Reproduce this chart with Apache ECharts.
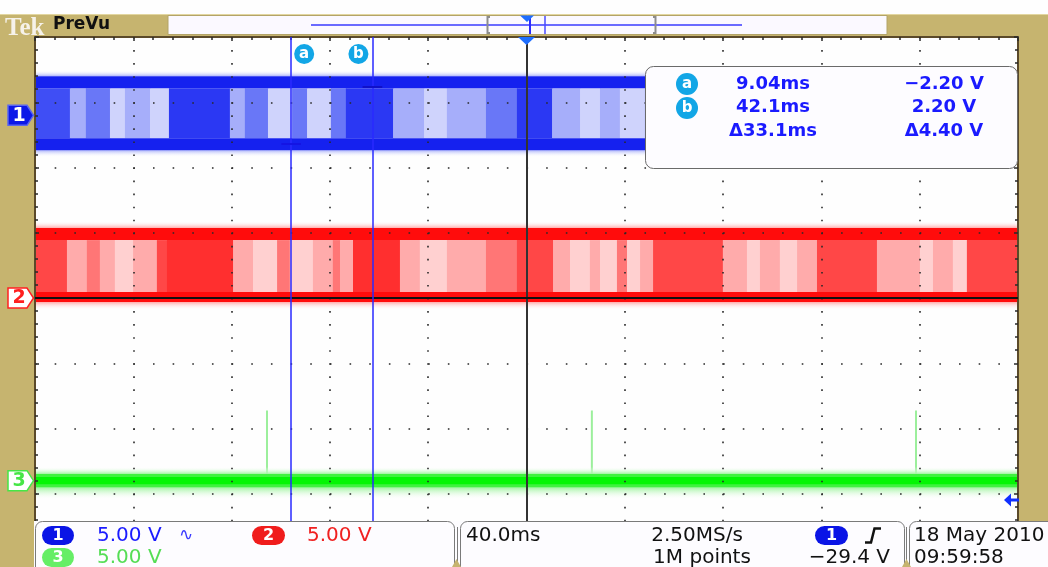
<!DOCTYPE html>
<html><head><meta charset="utf-8">
<script src="https://cdn.jsdelivr.net/npm/echarts@6.0.0/dist/echarts.min.js"></script>
<style>html,body{margin:0;padding:0;background:#fff;overflow:hidden}#c{width:1048px;height:567px}</style>
</head><body><div id="c"></div>
<script>
// ---------------- data ----------------
const timeSpan = [-95.2, 304.8];          // ms across the 10 horizontal divisions (40 ms/div)
const voltsPerDiv = [5, 5, 5];            // CH1, CH2, CH3
const chPosition = [2.8, 0, -2.8];        // ground marker of each channel, divisions from centre

// CH1 (blue) envelope, volts
const ch1Noise = [-3.2, 3.45];
const ch1Upper = [2.07, 3.0];
const ch1Lower = [-2.68, -1.76];
const ch1Edges = [-95.2, -81.0, -74.5, -64.7, -58.6, -48.4, -40.7, -15.9, -9.8, -0.4, 9.4, 15.5, 25.2, 31.3, 50.5, 63.1, 72.4, 88.3, 100.9, 115.2, 126.6, 134.7, 142.8, 153.0, 304.8];
const ch1Shade = [1, 3, 2, 4, 3, 4, 0, 3, 2, 4, 2, 4, 2, 0, 3, 4, 3, 2, 0, 3, 4, 3, 4, 1];

// CH2 (red) envelope, volts
const ch2Noise = [-0.9, 5.9];
const ch2Upper = [4.44, 5.36];
const ch2Lower = [-0.31, 0.46];
const ch2Edges = [-95.2, -82.2, -74.1, -68.8, -62.7, -55.3, -45.6, -41.5, -14.6, -6.5, 3.3, 8.5, 17.9, 26.0, 28.9, 34.2, 53.3, 61.4, 72.4, 88.3, 100.9, 115.6, 122.5, 130.6, 134.7, 141.6, 145.7, 151.0, 156.3, 184.7, 194.5, 199.8, 207.9, 214.9, 223.0, 247.4, 264.9, 270.2, 278.3, 284.0, 304.8];
const ch2Shade = [1, 3, 2, 3, 4, 3, 1, 0, 3, 4, 2, 4, 3, 2, 3, 0, 3, 4, 3, 2, 1, 3, 4, 3, 4, 2, 4, 3, 1, 3, 4, 3, 4, 3, 1, 3, 4, 3, 4, 1];

// CH3 (green), volts
const ch3Noise = [-1.45, 1.05];
const ch3Band = [-0.52, 0.52];
const ch3Core = [-0.28, 0.28];
const ch3SpikeTimes = [-0.8, 131.4, 263.3];
const ch3SpikePeaks = [5.38, 5.38, 5.38];

// cursors
const cursorTimes = [9.04, 42.1];
const cursorVolts = [-2.20, 2.20];
const readTime = ['9.04ms', '42.1ms', 'Δ33.1ms'];
const readVolt = ['\u22122.20 V', '2.20 V', 'Δ4.40 V'];

// status bar texts
const chScaleText = ['5.00 V', '5.00 V', '5.00 V'];
const horizText = ['40.0ms', '2.50MS/s', '1M points'];
const trigLevelText = '\u221229.4 V';
const dateText = ['18 May 2010', '09:59:58'];

// ---------------- helpers ----------------
const toDiv = (ch, v) => v / voltsPerDiv[ch] + chPosition[ch];

function bandData(ch, noise, upper, lower, edges, shade) {
  const t0 = timeSpan[0], t1 = timeSpan[1], d = [];
  d.push([t0, t1, toDiv(ch, upper[1]), toDiv(ch, noise[1]), 11]);
  d.push([t0, t1, toDiv(ch, noise[0]), toDiv(ch, lower[0]), 12]);
  for (let i = 0; i < shade.length; i++) {
    d.push([edges[i], edges[i + 1], toDiv(ch, lower[1]), toDiv(ch, upper[0]), shade[i]]);
  }
  d.push([t0, t1, toDiv(ch, upper[0]), toDiv(ch, upper[1]), 10]);
  d.push([t0, t1, toDiv(ch, lower[0]), toDiv(ch, lower[1]), 10]);
  return d;
}

const palBlue = { s: ['#2b38f3', '#3f4ef5', '#6977f7', '#a6aefa', '#cfd3fc'], dense: '#1521ef', fr: '#aeb5fa', core: '#1521ef' };
const palRed = { s: ['#ff2f2f', '#ff4747', '#ff7676', '#ffabab', '#ffd0d0'], dense: '#ff0c0c', fr: '#ffacac', core: '#ff0c0c' };
const palGreen = { s: ['#5cf25c'], dense: '#3ff23f', fr: '#a2f4a2', core: '#04f604' };

function colorFor(p, k) {
  if (k === 10) return p.dense;
  if (k === 13) return p.core;
  if (k === 11) return new echarts.graphic.LinearGradient(0, 0, 0, 1, [{ offset: 0, color: 'rgba(255,255,255,0)' }, { offset: 1, color: p.fr }]);
  if (k === 12) return new echarts.graphic.LinearGradient(0, 0, 0, 1, [{ offset: 0, color: p.fr }, { offset: 1, color: 'rgba(255,255,255,0)' }]);
  return p.s[k];
}
function bandRender(p) {
  return function (params, api) {
    const a = api.coord([api.value(0), api.value(3)]);
    const b = api.coord([api.value(1), api.value(2)]);
    return { type: 'rect', shape: { x: a[0], y: a[1], width: b[0] - a[0] + 0.6, height: b[1] - a[1] }, style: { fill: colorFor(p, api.value(4)) } };
  };
}

const ch1Data = bandData(0, ch1Noise, ch1Upper, ch1Lower, ch1Edges, ch1Shade);
const ch2Data = bandData(1, ch2Noise, ch2Upper, ch2Lower, ch2Edges, ch2Shade);
const ch3Data = [
  [timeSpan[0], timeSpan[1], toDiv(2, ch3Band[1]), toDiv(2, ch3Noise[1]), 11],
  [timeSpan[0], timeSpan[1], toDiv(2, ch3Noise[0]), toDiv(2, ch3Band[0]), 12],
  [timeSpan[0], timeSpan[1], toDiv(2, ch3Band[0]), toDiv(2, ch3Band[1]), 10],
  [timeSpan[0], timeSpan[1], toDiv(2, ch3Core[0]), toDiv(2, ch3Core[1]), 13]
];
const spikeData = ch3SpikeTimes.map((t, i) => [t, toDiv(2, 0), toDiv(2, ch3SpikePeaks[i])]);

const dotColor = '#2a2a2a';
const frameLine = { show: true, onZero: false, lineStyle: { color: '#5b4a2a', width: 2 } };
const tickStyle = { show: true, inside: true, length: 4, lineStyle: { color: dotColor, width: 1.5 } };
const minorStyle = { show: true, splitNumber: 5, length: 3, lineStyle: { color: dotColor, width: 1.5 } };
const chart = echarts.init(document.getElementById('c'), null, { renderer: 'canvas' });

chart.setOption({
  animation: false,
  backgroundColor: '#fefefe',
  grid: { left: 35, top: 37, width: 983, height: 522, show: false },
  xAxis: [
    { type: 'value', min: timeSpan[0], max: timeSpan[1], show: false, axisLine: { onZero: false } },
    { type: 'value', min: 0, max: 10, interval: 1, position: 'top', z: 4,
      axisLine: frameLine, axisTick: tickStyle, minorTick: minorStyle, axisLabel: { show: false },
      splitLine: { show: true, lineStyle: { color: dotColor, width: 1.6, type: [1.6, 11.45] } } }
  ],
  yAxis: [
    { type: 'value', min: -4, max: 4, interval: 1, z: 4,
      axisLine: frameLine, axisTick: tickStyle, minorTick: minorStyle, axisLabel: { show: false },
      splitLine: { show: true, lineStyle: { color: dotColor, width: 1.6, type: [1.6, 18.06] } } },
    { type: 'value', min: -4, max: 4, interval: 1, position: 'right', z: 4,
      axisLine: frameLine, axisTick: tickStyle, minorTick: minorStyle, axisLabel: { show: false }, splitLine: { show: false } }
  ],
  series: [
    { type: 'custom', xAxisIndex: 0, yAxisIndex: 0, silent: true, renderItem: bandRender(palBlue), data: ch1Data, encode: { x: [0, 1], y: [2, 3] }, z: 2 },
    { type: 'custom', xAxisIndex: 0, yAxisIndex: 0, silent: true, renderItem: bandRender(palRed), data: ch2Data, encode: { x: [0, 1], y: [2, 3] }, z: 2 },
    { type: 'custom', xAxisIndex: 0, yAxisIndex: 0, silent: true, data: spikeData, encode: { x: 0, y: [1, 2] }, z: 2,
      renderItem: function (params, api) {
        const a = api.coord([api.value(0), api.value(2)]), b = api.coord([api.value(0), api.value(1)]);
        return { type: 'rect', shape: { x: a[0] - 1, y: a[1], width: 2, height: b[1] - a[1] }, style: { fill: '#9cef9c' } };
      } },
    { type: 'custom', xAxisIndex: 0, yAxisIndex: 0, silent: true, renderItem: bandRender(palGreen), data: ch3Data, encode: { x: [0, 1], y: [2, 3] }, z: 2 },
    // centre line and CH2 ground trace
    { type: 'line', xAxisIndex: 1, yAxisIndex: 0, data: [], z: 5, silent: true,
      markLine: { silent: true, symbol: ['none', 'none'], label: { show: false },
        data: [
          { xAxis: 5, lineStyle: { color: '#333', width: 2, type: 'solid' } },
          { yAxis: chPosition[1], lineStyle: { color: '#111', width: 2, type: 'solid' } }
        ] } },
    // cursors
    { type: 'line', xAxisIndex: 0, yAxisIndex: 0, data: [], z: 6, silent: true,
      markLine: { silent: true, symbol: ['none', 'none'], label: { show: false },
        data: [
          { xAxis: cursorTimes[0], lineStyle: { color: '#2a2aff', width: 1.5, type: 'solid' } },
          { xAxis: cursorTimes[1], lineStyle: { color: '#2a2aff', width: 1.5, type: 'solid' } },
          [{ coord: [cursorTimes[0] - 4, toDiv(0, cursorVolts[0])], lineStyle: { color: '#1414e4', width: 2, type: 'solid' } }, { coord: [cursorTimes[0] + 4, toDiv(0, cursorVolts[0])] }],
          [{ coord: [cursorTimes[1] - 4, toDiv(0, cursorVolts[1])], lineStyle: { color: '#1010c8', width: 2, type: 'solid' } }, { coord: [cursorTimes[1] + 4, toDiv(0, cursorVolts[1])] }]
        ] } }
  ]
});

// ---------------- overlay (screen furniture) ----------------
const Z = 100;
const tan = '#c6b46f';
const px = t => chart.convertToPixel({ xAxisIndex: 0 }, t);
const py = d => chart.convertToPixel({ yAxisIndex: 0 }, d);
const g = [];
const txt = (x, y, s, fill, size, opt) => g.push({ type: 'text', x: x, y: y, z: Z + 2,
  style: { text: s, fill: fill, font: (opt && opt.weight || 'normal') + ' ' + size + 'px ' + (opt && opt.family || '"DejaVu Sans"'), textAlign: (opt && opt.align) || 'left', textVerticalAlign: 'middle' } });
const circ = (x, y, r, fill, s) => { g.push({ type: 'circle', z: Z + 1, shape: { cx: x, cy: y, r: r }, style: { fill: fill } }); txt(x, y + 0.5, s, '#fff', 15, { weight: 'bold', align: 'center' }); };
const pill = (x, y, w, h, fill, s) => { g.push({ type: 'rect', z: Z + 1, shape: { x: x, y: y, width: w, height: h, r: h / 2 }, style: { fill: fill } }); txt(x + w / 2, y + h / 2 + 0.5, s, '#fff', 16, { weight: 'bold', align: 'center' }); };

// tan frame
g.push({ type: 'rect', z: Z, shape: { x: 0, y: 14, width: 1048, height: 22 }, style: { fill: tan } });
g.push({ type: 'rect', z: Z, shape: { x: 0, y: 14, width: 34, height: 553 }, style: { fill: tan } });
g.push({ type: 'rect', z: Z, shape: { x: 1019, y: 14, width: 29, height: 507 }, style: { fill: tan } });
g.push({ type: 'line', z: Z + 1, shape: { x1: 0, y1: 14.5, x2: 1048, y2: 14.5 }, style: { stroke: '#e2d6a0', lineWidth: 1 } });
txt(5, 28.5, 'Tek', '#f6f2ea', 25, { weight: 'bold', family: '"Liberation Serif"' });
txt(53, 24.5, 'PreVu', '#111', 17, { weight: 'bold' });

// record view bar
g.push({ type: 'rect', z: Z + 1, shape: { x: 168, y: 15.5, width: 719, height: 19 }, style: { fill: '#fbf9ff', stroke: '#b3a468', lineWidth: 1 } });
g.push({ type: 'line', z: Z + 2, shape: { x1: 311, y1: 25, x2: 742, y2: 25 }, style: { stroke: '#3a3aff', lineWidth: 1.6 } });
g.push({ type: 'polyline', z: Z + 2, shape: { points: [[490, 17], [487.5, 17], [487.5, 33], [490, 33]] }, style: { stroke: '#8d8d8d', lineWidth: 2, fill: null } });
g.push({ type: 'polyline', z: Z + 2, shape: { points: [[653, 17], [655.5, 17], [655.5, 33], [653, 33]] }, style: { stroke: '#8d8d8d', lineWidth: 2, fill: null } });
g.push({ type: 'polygon', z: Z + 3, shape: { points: [[520, 15.5], [534, 15.5], [527, 22]] }, style: { fill: '#1e6eff' } });
g.push({ type: 'line', z: Z + 2, shape: { x1: 530, y1: 16, x2: 530, y2: 34 }, style: { stroke: '#2a2aff', lineWidth: 2 } });
g.push({ type: 'line', z: Z + 2, shape: { x1: 545, y1: 16, x2: 545, y2: 34 }, style: { stroke: '#4a4aff', lineWidth: 1.5 } });

// trigger position marker on the graticule
const xc = chart.convertToPixel({ xAxisIndex: 1 }, 5);
g.push({ type: 'polygon', z: Z + 3, shape: { points: [[xc - 8.5, 37], [xc + 8.5, 37], [xc, 45]] }, style: { fill: '#1e6eff' } });

// channel ground markers
const markFill = ['#0c18e8', '#ffffff', '#ffffff'];
const markStroke = ['#5a66ee', '#ff2020', '#46e646'];
const markText = ['#ffffff', '#ff2020', '#46e646'];
['1', '2', '3'].forEach((s, i) => {
  const y = py(chPosition[i]);
  g.push({ type: 'polygon', z: Z + 1, shape: { points: [[8, y - 10], [27, y - 10], [33.5, y], [27, y + 10], [8, y + 10]] }, style: { fill: markFill[i], stroke: markStroke[i], lineWidth: 1.5 } });
  txt(19, y + 0.5, s, markText[i], 19, { weight: 'bold', align: 'center' });
});

// cursor labels
const cax = px(cursorTimes[0]), cbx = px(cursorTimes[1]);
circ(cax + 13, 54, 10, '#12a6e6', 'a');
circ(cbx - 14, 54, 10, '#12a6e6', 'b');

// cursor readout box
g.push({ type: 'rect', z: Z, shape: { x: 645.5, y: 66.5, width: 372, height: 102, r: 8 }, style: { fill: '#fdfcff', stroke: '#6a6a6a', lineWidth: 1 } });
circ(687, 84, 11, '#12a6e6', 'a');
circ(687, 108, 11, '#12a6e6', 'b');
const rowY = [84, 107.5, 131.5];
readTime.forEach((s, i) => txt(773, rowY[i], s, '#1a1aff', 18, { weight: 'bold', align: 'center' }));
readVolt.forEach((s, i) => txt(944, rowY[i], s, '#1a1aff', 18, { weight: 'bold', align: 'center' }));

// trigger level arrow at right
g.push({ type: 'polygon', z: Z + 1, shape: { points: [[1004, 500], [1011, 493.5], [1011, 506.5]] }, style: { fill: '#1030ff' } });
g.push({ type: 'rect', z: Z + 1, shape: { x: 1010, y: 498.5, width: 9, height: 3 }, style: { fill: '#1030ff' } });

// status bar
g.push({ type: 'rect', z: Z, shape: { x: 34, y: 521, width: 1014, height: 46 }, style: { fill: '#fdfcff' } });
g.push({ type: 'rect', z: Z, shape: { x: 35.5, y: 521.5, width: 419, height: 60, r: [7, 7, 0, 0] }, style: { fill: '#fdfcff', stroke: '#7a7a7a', lineWidth: 1 } });
g.push({ type: 'rect', z: Z, shape: { x: 460.5, y: 521.5, width: 444, height: 60, r: [7, 7, 0, 0] }, style: { fill: '#fdfcff', stroke: '#7a7a7a', lineWidth: 1 } });
g.push({ type: 'line', z: Z, shape: { x1: 457.5, y1: 527, x2: 457.5, y2: 567 }, style: { stroke: '#7a7a7a', lineWidth: 1 } });
g.push({ type: 'rect', z: Z, shape: { x: 909.5, y: 521.5, width: 160, height: 60, r: [7, 7, 0, 0] }, style: { fill: '#fdfcff', stroke: '#7a7a7a', lineWidth: 1 } });
g.push({ type: 'line', z: Z, shape: { x1: 906.5, y1: 527, x2: 906.5, y2: 567 }, style: { stroke: '#7a7a7a', lineWidth: 1 } });
g.push({ type: 'polygon', z: Z + 1, shape: { points: [[452, 567], [456.5, 559], [461, 567]] }, style: { fill: tan } });
g.push({ type: 'polygon', z: Z + 1, shape: { points: [[902, 567], [906.5, 559], [911, 567]] }, style: { fill: tan } });

const r1 = 535.5, r2 = 557.5, fs = 20;
pill(42, 526, 32, 19, '#0a14e6', '1');
txt(97, r1, chScaleText[0], '#1a1aff', fs);
txt(179, r1, '\u223F', '#3a3aff', 17);
pill(252, 526, 33, 19, '#f01c1c', '2');
txt(307, r1, chScaleText[1], '#f02020', fs);
pill(42, 548, 32, 19, '#66ee66', '3');
txt(97, r2, chScaleText[2], '#55dd55', fs);

txt(466, r1, horizText[0], '#111', fs);
txt(697, r1, horizText[1], '#111', fs, { align: 'center' });
txt(702, r2, horizText[2], '#111', fs, { align: 'center' });
pill(815, 526, 33, 19, '#0a14e6', '1');
g.push({ type: 'polyline', z: Z + 2, shape: { points: [[865, 542.5], [871, 542.5], [874.5, 528.5], [881, 528.5]] }, style: { stroke: '#111', lineWidth: 2.5, fill: null } });
txt(890, r2, trigLevelText, '#111', fs, { align: 'right' });
txt(914, r1, dateText[0], '#111', fs);
txt(914, r2, dateText[1], '#111', fs);

chart.setOption({ graphic: { elements: g } });
</script></body></html>
